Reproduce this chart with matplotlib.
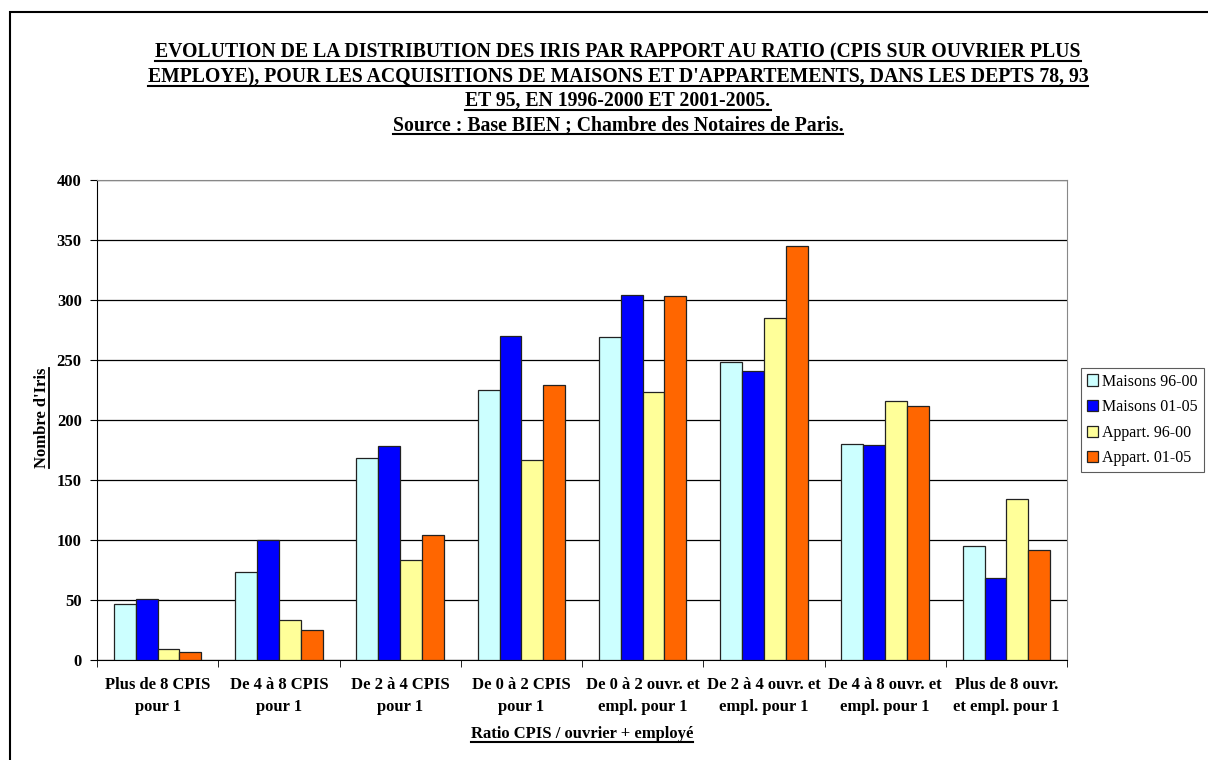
import matplotlib
matplotlib.use("Agg")
import matplotlib.pyplot as plt
from matplotlib.lines import Line2D
from matplotlib.patches import Rectangle
import numpy as np

plt.rcParams['font.family'] = ['Liberation Serif', 'DejaVu Serif']

categories = ["Plus de 8 CPIS\npour 1", "De 4 à 8 CPIS\npour 1", "De 2 à 4 CPIS\npour 1",
              "De 0 à 2 CPIS\npour 1", "De 0 à 2 ouvr. et\nempl. pour 1",
              "De 2 à 4 ouvr. et\nempl. pour 1", "De 4 à 8 ouvr. et\nempl. pour 1",
              "Plus de 8 ouvr.\net empl. pour 1"]
series_names = ["Maisons 96-00", "Maisons 01-05", "Appart. 96-00", "Appart. 01-05"]
maisons_96_00 = [47, 73, 168, 225, 269, 248, 180, 95]
maisons_01_05 = [51, 100, 178, 270, 304, 241, 179, 68]
appart_96_00 = [9, 33, 83, 167, 223, 285, 216, 134]
appart_01_05 = [7, 25, 104, 229, 303, 345, 212, 92]
colors = ["#CCFFFF", "#0000FF", "#FFFF99", "#FF6600"]

title_lines = ["EVOLUTION DE LA DISTRIBUTION DES IRIS PAR RAPPORT AU RATIO (CPIS SUR OUVRIER PLUS",
               "EMPLOYE), POUR LES ACQUISITIONS DE MAISONS ET D'APPARTEMENTS, DANS LES DEPTS 78, 93",
               "ET 95, EN 1996-2000 ET 2001-2005.",
               "Source : Base BIEN ; Chambre des Notaires de Paris."]

W, H = 1208, 760
fig = plt.figure(figsize=(W / 100, H / 100), dpi=100)
fig.patches.append(Rectangle((10 / W, -0.01), 1.02, 1 - 12 / H + 0.01, transform=fig.transFigure,
                             fill=False, edgecolor='black', linewidth=1.5))

ax = fig.add_axes([97 / W, 1 - 660 / H, (1067 - 97) / W, (660 - 180) / H])
x = np.arange(len(categories))
width = 0.18
all_series = [maisons_96_00, maisons_01_05, appart_96_00, appart_01_05]
for i, (vals, name, c) in enumerate(zip(all_series, series_names, colors)):
    ax.bar(x + (i - 1.5) * width, vals, width, color=c, edgecolor='#222222',
           linewidth=0.9, label=name, zorder=3)

ax.set_xlim(-0.5, len(categories) - 0.5)
ax.set_ylim(0, 400)
ax.set_yticks(range(0, 401, 50))
ax.yaxis.grid(True, color='black', linewidth=0.9, zorder=0)
ax.set_xticks(x)
ax.set_xticklabels(categories, fontsize=12, fontweight='bold', linespacing=1.5)
ax.set_xticks(np.arange(-0.5, len(categories)), minor=True)
ax.tick_params(axis='x', which='major', length=0, pad=12)
ax.tick_params(axis='x', which='minor', length=5, direction='out')
ax.tick_params(axis='y', length=5, direction='out', labelsize=12, pad=6)
for lbl in ax.get_yticklabels():
    lbl.set_fontweight('bold')
for side in ['top', 'right']:
    ax.spines[side].set_color('#888888')
ax.spines['left'].set_color('black')
ax.spines['bottom'].set_color('black')

leg = ax.legend(loc='center left', bbox_to_anchor=(1.014, 0.5), frameon=True, fancybox=False,
                edgecolor='#333333', fontsize=11.5, handlelength=0.7, handleheight=0.7,
                handletextpad=0.25, labelspacing=0.6, borderpad=0.38, borderaxespad=0)
leg.get_frame().set_linewidth(0.8)

texts = []
ys = [57, 82, 106, 130]
for line, yy in zip(title_lines, ys):
    texts.append(fig.text(618 / W, 1 - yy / H, line, ha='center', va='baseline',
                          fontsize=14.2, fontweight='bold'))
texts.append(fig.text(582 / W, 1 - 738 / H, "Ratio CPIS / ouvrier + employé", ha='center',
                      va='baseline', fontsize=12, fontweight='bold'))

ylab = fig.text(42 / W, 1 - 418 / H, "Nombre d'Iris", ha='center', va='center',
                rotation=90, fontsize=12, fontweight='bold')

# underline the texts
fig.canvas.draw()
r = fig.canvas.get_renderer()
for t in texts:
    bb = t.get_window_extent(r)
    yy = t.get_position()[1] - 4 / H
    fig.lines.append(Line2D([bb.x0 / W, bb.x1 / W], [yy, yy], color='black', linewidth=1.5,
                            transform=fig.transFigure))
bb = ylab.get_window_extent(r)
xx = (bb.x1 - 1) / W
fig.lines.append(Line2D([xx, xx], [bb.y0 / H, bb.y1 / H], color='black', linewidth=1.3,
                        transform=fig.transFigure))

fig.savefig("out.png", dpi=100)
